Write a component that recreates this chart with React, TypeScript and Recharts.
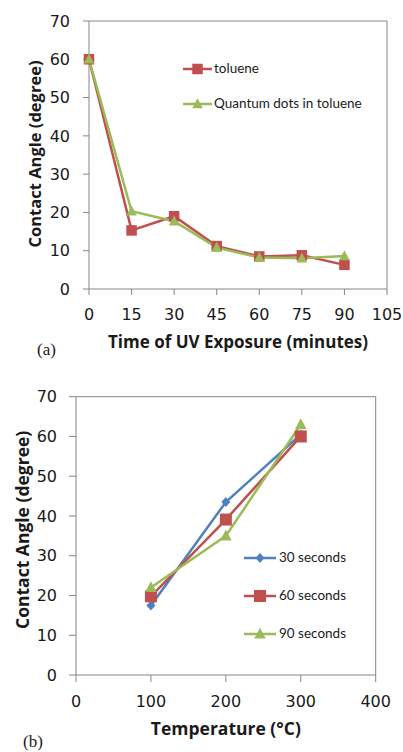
import React from 'react';
import { LineChart, Line, XAxis, YAxis, Legend, ReferenceLine, Label } from 'recharts';

// ---- Chart (a) data ----
const uvTime = [0, 15, 30, 45, 60, 75, 90];
const toluene = [60, 15.3, 19, 11.2, 8.5, 8.8, 6.3];
const qdToluene = [60, 20.3, 17.7, 10.8, 8.2, 8.0, 8.6];
const uvXTicks = [0, 15, 30, 45, 60, 75, 90, 105];
const angleTicks = [0, 10, 20, 30, 40, 50, 60, 70];

// ---- Chart (b) data ----
const temps = [100, 200, 300];
const sec30 = [17.5, 43.5, 60.5];
const sec60 = [19.8, 39.1, 60];
const sec90 = [22, 35, 63];
const tempTicks = [0, 100, 200, 300, 400];

const RED = '#C0504D';
const GREEN = '#9BBB59';
const BLUE = '#4F81BD';
const AXIS = '#868686';
const TEXT = '#1a1a1a';

const aData = uvTime.map((x, i) => ({ x, toluene: toluene[i], qd: qdToluene[i] }));
const bData = temps.map((x, i) => ({ x, s30: sec30[i], s60: sec60[i], s90: sec90[i] }));

type Shape = 'square' | 'triangle' | 'diamond';

const Marker = ({ cx, cy, fill, shape, size }: { cx: number; cy: number; fill: string; shape: Shape; size: number }) => {
  if (cx == null || cy == null) return null;
  if (shape === 'square') {
    return <rect x={cx - size / 2} y={cy - size / 2} width={size} height={size} fill={fill} />;
  }
  if (shape === 'triangle') {
    const h = size * 0.95;
    return (
      <polygon
        points={`${cx},${cy - h * 0.58} ${cx + size / 2},${cy + h * 0.42} ${cx - size / 2},${cy + h * 0.42}`}
        fill={fill}
      />
    );
  }
  const w = size * 0.9;
  return (
    <polygon
      points={`${cx},${cy - size / 2} ${cx + w / 2},${cy} ${cx},${cy + size / 2} ${cx - w / 2},${cy}`}
      fill={fill}
    />
  );
};

const dotFor = (shape: Shape, fill: string, size: number) => (p: any) => (
  <Marker key={`${shape}-${p.index}`} cx={p.cx} cy={p.cy} fill={fill} shape={shape} size={size} />
);

const aSeries = [
  { key: 'toluene', name: 'toluene', color: RED, shape: 'square' as Shape, size: 10.5 },
  { key: 'qd', name: 'Quantum dots in toluene', color: GREEN, shape: 'triangle' as Shape, size: 10.5 },
];
const bSeries = [
  { key: 's30', name: '30 seconds', color: BLUE, shape: 'diamond' as Shape, size: 10 },
  { key: 's60', name: '60 seconds', color: RED, shape: 'square' as Shape, size: 12 },
  { key: 's90', name: '90 seconds', color: GREEN, shape: 'triangle' as Shape, size: 11.5 },
];

const makeLegend = (series: typeof aSeries, lineLen: number, rowH: number, gap: number) => (props: any) => {
  const payload: any[] = props.payload || [];
  const ordered = series.filter((s) => payload.length === 0 || payload.some((e) => e.dataKey === s.key));
  return (
    <div style={{ display: 'flex', flexDirection: 'column' }}>
      {ordered.map((s) => (
        <div key={s.key} style={{ display: 'flex', alignItems: 'center', height: rowH }}>
          <svg width={lineLen} height={14} style={{ display: 'block' }}>
            <line x1={0} y1={7} x2={lineLen} y2={7} stroke={s.color} strokeWidth={2.5} />
            <Marker cx={lineLen / 2} cy={7} fill={s.color} shape={s.shape} size={s.size} />
          </svg>
          <span
            style={{
              marginLeft: gap,
              fontFamily: 'Lato, "Noto Sans", sans-serif',
              fontSize: 13.5,
              color: TEXT,
              whiteSpace: 'nowrap',
              lineHeight: 1,
            }}
          >
            {s.name}
          </span>
        </div>
      ))}
    </div>
  );
};

const tickStyle = { fill: TEXT, fontSize: 16, fontFamily: '"DejaVu Sans", Verdana, sans-serif' };
const titleFont = { fontFamily: '"Open Sans", sans-serif', fontWeight: 700, fill: TEXT } as const;

const xTitle = (text: string, dy: number, size: number) => (props: any) => {
  const vb = props.viewBox || {};
  return (
    <text x={vb.x + vb.width / 2} y={vb.y + dy} textAnchor="middle" fontSize={size} {...titleFont}>
      {text}
    </text>
  );
};

const yTitle = (text: string, fromAxis: number, size: number, shift: number) => (props: any) => {
  const vb = props.viewBox || {};
  const x = vb.x + vb.width - fromAxis;
  const y = vb.y + vb.height / 2 + shift;
  return (
    <text
      x={x}
      y={y}
      textAnchor="middle"
      dominantBaseline="central"
      transform={`rotate(-90 ${x} ${y})`}
      fontSize={size}
      {...titleFont}
    >
      {text}
    </text>
  );
};

const panelLabel = (txt: string, left: number, top: number) => (
  <div
    style={{
      position: 'absolute',
      left,
      top,
      fontFamily: '"Liberation Serif", "Times New Roman", serif',
      fontSize: 17,
      color: TEXT,
      lineHeight: 1,
    }}
  >
    {txt}
  </div>
);

export default function App() {
  return (
    <div style={{ position: 'absolute', left: 0, top: 0, width: 403, height: 752, background: '#fff' }}>
      <div style={{ position: 'absolute', left: 0, top: 0 }}>
        <LineChart width={403} height={370} data={aData} margin={{ top: 21, right: 16, left: 0, bottom: 0 }}>
          <XAxis
            dataKey="x"
            type="number"
            domain={[0, 105]}
            ticks={uvXTicks}
            interval={0}
            height={81}
            tickSize={6}
            tickMargin={14}
            stroke={AXIS}
            tick={tickStyle}
            tickLine={{ stroke: AXIS }}
            axisLine={{ stroke: AXIS }}
          >
            <Label content={xTitle('Time of UV Exposure (minutes)', 59, 17)} />
          </XAxis>
          <YAxis
            type="number"
            domain={[0, 70]}
            ticks={angleTicks}
            interval={0}
            width={89}
            tickSize={6}
            tickMargin={13}
            stroke={AXIS}
            tick={tickStyle}
            tickLine={{ stroke: AXIS }}
            axisLine={{ stroke: AXIS }}
          >
            <Label content={yTitle('Contact Angle (degree)', 55, 16.5, -1)} />
          </YAxis>
          <ReferenceLine y={70} stroke={AXIS} />
          <ReferenceLine x={105} stroke={AXIS} />
          {aSeries.map((s) => (
            <Line
              key={s.key}
              type="linear"
              dataKey={s.key}
              name={s.name}
              stroke={s.color}
              strokeWidth={2.5}
              dot={dotFor(s.shape, s.color, s.size)}
              activeDot={false}
              isAnimationActive={false}
            />
          ))}
          <Legend
            layout="vertical"
            align="center"
            verticalAlign="middle"
            wrapperStyle={{ left: 183, top: 51.5, width: 'auto' }}
            content={makeLegend(aSeries, 29, 35, 2)}
          />
        </LineChart>
      </div>
      {panelLabel('(a)', 37, 341)}

      <div style={{ position: 'absolute', left: 0, top: 370 }}>
        <LineChart width={403} height={382} data={bData} margin={{ top: 26.7, right: 27.3, left: 0, bottom: 0 }}>
          <XAxis
            dataKey="x"
            type="number"
            domain={[0, 400]}
            ticks={tempTicks}
            interval={0}
            height={77}
            tickSize={7}
            tickMargin={14}
            stroke={AXIS}
            tick={tickStyle}
            tickLine={{ stroke: AXIS }}
            axisLine={{ stroke: AXIS }}
          >
            <Label content={xTitle('Temperature (°C)', 60, 17.5)} />
          </XAxis>
          <YAxis
            type="number"
            domain={[0, 70]}
            ticks={angleTicks}
            interval={0}
            width={76}
            tickSize={7}
            tickMargin={12}
            stroke={AXIS}
            tick={tickStyle}
            tickLine={{ stroke: AXIS }}
            axisLine={{ stroke: AXIS }}
          >
            <Label content={yTitle('Contact Angle (degree)', 54, 17.5, -6)} />
          </YAxis>
          <ReferenceLine y={70} stroke={AXIS} />
          <ReferenceLine x={400} stroke={AXIS} />
          {bSeries.map((s) => (
            <Line
              key={s.key}
              type="linear"
              dataKey={s.key}
              name={s.name}
              stroke={s.color}
              strokeWidth={2.5}
              dot={dotFor(s.shape, s.color, s.size)}
              activeDot={false}
              isAnimationActive={false}
            />
          ))}
          <Legend
            layout="vertical"
            align="center"
            verticalAlign="middle"
            wrapperStyle={{ left: 244, top: 168.7, width: 'auto' }}
            content={makeLegend(bSeries, 32, 38, 3)}
          />
        </LineChart>
      </div>
      {panelLabel('(b)', 23, 733)}
    </div>
  );
}
